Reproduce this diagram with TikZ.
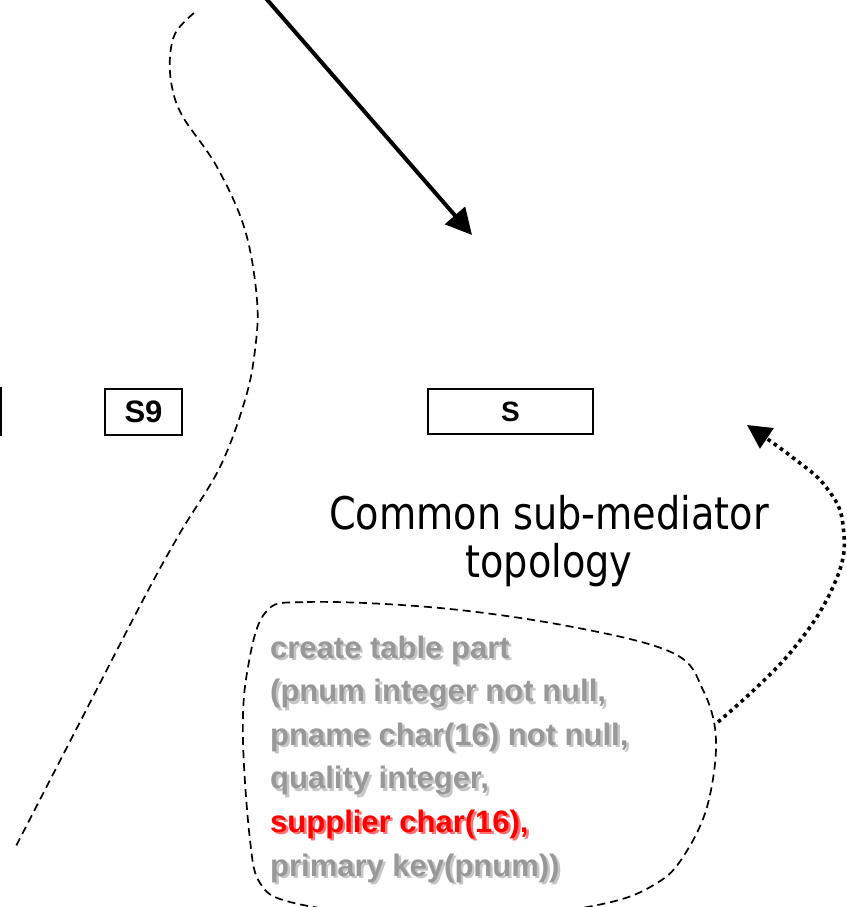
\documentclass[tikz,border=0pt]{standalone}
\usepackage{fontspec}
\setmainfont{Liberation Sans}
\newfontfamily\labelfont[FakeStretch=0.85]{DejaVu Sans}
\usetikzlibrary{arrows.meta}
\definecolor{sqlgray}{HTML}{989898}
\definecolor{sqlred}{HTML}{FF0000}
\tikzset{
  srcbox/.style={draw, line width=2.2pt, inner sep=0pt,
    font=\bfseries\fontsize{31}{33}\selectfont},
  border/.style={dash pattern=on 8pt off 5pt, line width=1.7pt},
  sqlline/.style={anchor=base west, inner sep=0pt,
    font=\bfseries\fontsize{31}{33}\selectfont},
  flowarrow/.style={line width=4pt, -{Triangle[length=26pt,width=26pt]}},
  linkarrow/.style={line width=3.6pt, dash pattern=on 3.6pt off 4pt,
    -{Triangle[length=24pt,width=24pt]}},
}
\begin{document}
\begin{tikzpicture}[x=1pt,y=-1pt]
\useasboundingbox (0,0) rectangle (846,907);

% source boxes
\node[srcbox, minimum width=80pt, minimum height=46pt] (s8) at (-39,411.5) {};
\node[srcbox, minimum width=77pt, minimum height=46pt] (s9) at (143.5,412) {S9};
\node[srcbox, minimum width=165pt, minimum height=45pt,
      font=\bfseries\fontsize{28}{30}\selectfont] (s) at (510.5,411.5) {S};

% separating boundary
\draw[border] plot[smooth, tension=0.6] coordinates {
  (194,13) (176,32) (170,57) (172,87) (183,117) (217,167) (245,230)
  (257,300) (255,350) (245,400) (220,467) (180,533) (143,600)
  (80,722) (15,848)};

% caption
\node[font=\labelfont\fontsize{45}{48}\selectfont, align=center, inner sep=0pt]
  (caption) at (549,541.5) {Common sub-mediator\\topology};

% schema text with its shadow
\foreach \txt/\col [count=\i from 0] in {
    {create table part}/sqlgray,
    {(pnum integer not null,}/sqlgray,
    {pname char(16) not null,}/sqlgray,
    {quality integer,}/sqlgray,
    {supplier char(16),}/sqlred,
    {primary key(pnum))}/sqlgray} {
  \node[sqlline, text=\col!55!white] at (272.4,660.4+43.6*\i) {\txt};
  \node[sqlline, text=\col] (sql\i) at (270,658+43.6*\i) {\txt};
}

% outline round the schema
\draw[border] plot[smooth cycle, tension=0.6] coordinates {
  (265,613) (307,602) (440,608) (573,627) (673,653) (703,690)
  (716,740) (707,807) (683,857) (657,883) (607,903) (500,918)
  (380,915) (290,902) (260,883) (250,840) (243,740) (247,673)};

% connectors
\coordinate (flowstart) at (263,-5);
\coordinate (flowend) at (472,235);
\draw[flowarrow] (flowstart) -- (flowend);

\coordinate (linkstart) at (718,722);
\coordinate (linkend) at (747,425);
\draw[linkarrow] plot[smooth, tension=0.7] coordinates {
  (linkstart) (790,653) (836,580) (843,525) (826,487) (792,457) (linkend)};
\end{tikzpicture}
\end{document}
